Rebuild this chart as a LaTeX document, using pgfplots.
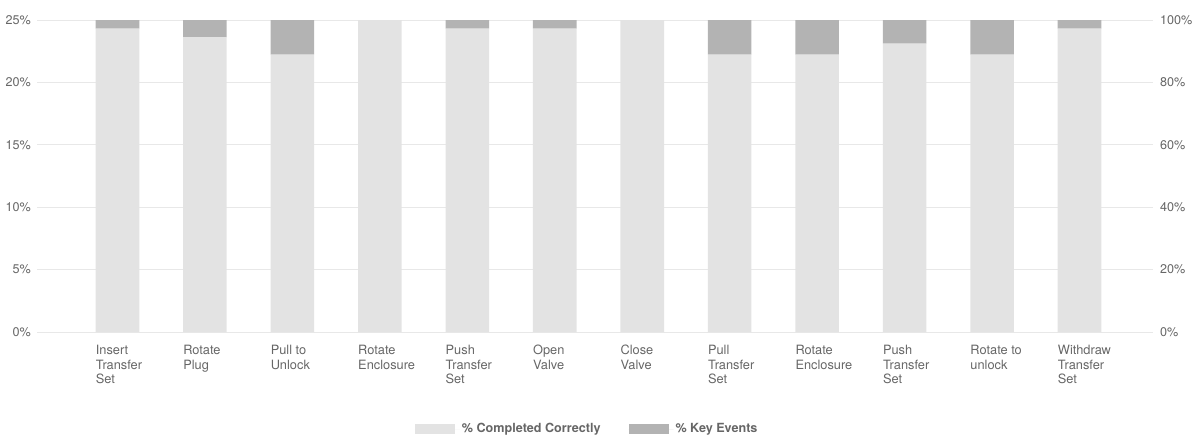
\documentclass[border=0pt]{standalone}
\usepackage{pgfplots}
\pgfplotsset{compat=1.18}
\usepackage{fontspec}
\setmainfont{TeX Gyre Heros}
\definecolor{lightbar}{HTML}{E3E3E3}
\definecolor{darkbar}{HTML}{B3B3B3}
\definecolor{gridc}{HTML}{E8E8E8}
\definecolor{txt}{HTML}{666666}
\begin{document}
\begin{tikzpicture}
\path[use as bounding box] (-37pt,-105pt) rectangle (1156pt,332pt);
\begin{axis}[
  at={(0pt,0pt)}, anchor=south west,
  scale only axis, width=1116pt, height=312pt,
  xmin=-0.92, xmax=11.84, ymin=0, ymax=100,
  ybar stacked, bar width=43.6pt,
  axis line style={draw=none},
  tick style={draw=none},
  ymajorgrids, grid style={gridc, line width=1pt},
  ytick={0,20,40,60,80,100},
  yticklabels={0\%,5\%,10\%,15\%,20\%,25\%},
  yticklabel style={font=\fontsize{12.6}{14}\selectfont, text=txt, inner sep=0pt, xshift=-6pt},
  xtick={0,...,11},
  xticklabels={{Insert\\Transfer\\Set},{Rotate\\Plug},{Pull to\\Unlock},{Rotate\\Enclosure},{Push\\Transfer\\Set},{Open\\Valve},{Close\\Valve},{Pull\\Transfer\\Set},{Rotate\\Enclosure},{Push\\Transfer\\Set},{Rotate to\\unlock},{Withdraw\\Transfer\\Set}},
  xticklabel style={font=\fontsize{12.8}{14.5}\selectfont, text=txt, align=left, anchor=north west, inner sep=0pt, xshift=-21.8pt, yshift=-13pt},
  legend style={at={(0.493,-0.311)}, anchor=center, draw=none, legend columns=2,
    font=\fontsize{12.6}{14}\selectfont\bfseries, text=txt,
    /tikz/every even column/.append style={column sep=26pt}},
  legend cell align=left,
  legend image code/.code={\fill[#1, draw=none] (0pt,-5pt) rectangle (40pt,5pt); \path (0pt,0pt) -- (45pt,0pt);},
]
\addplot[fill=lightbar, draw=none] coordinates {(0,97.2) (1,94.4) (2,88.9) (3,100) (4,97.2) (5,97.2) (6,100) (7,88.9) (8,88.9) (9,92.4) (10,88.9) (11,97.2)};
\addplot[fill=darkbar, draw=none] coordinates {(0,2.8) (1,5.6) (2,11.1) (3,0) (4,2.8) (5,2.8) (6,0) (7,11.1) (8,11.1) (9,7.6) (10,11.1) (11,2.8)};
\legend{\% Completed Correctly, \% Key Events}
\end{axis}
\begin{axis}[
  at={(0pt,0pt)}, anchor=south west,
  scale only axis, width=1116pt, height=312pt,
  xmin=-0.92, xmax=11.84, ymin=0, ymax=100,
  axis x line=none, axis y line*=right,
  axis line style={draw=none}, tick style={draw=none},
  ytick={0,20,40,60,80,100},
  yticklabels={0\%,20\%,40\%,60\%,80\%,100\%},
  yticklabel style={font=\fontsize{12.6}{14}\selectfont, text=txt, inner sep=0pt, xshift=7pt, anchor=west},
]
\addplot[draw=none] coordinates {(0,0)};
\end{axis}
\end{tikzpicture}
\end{document}
